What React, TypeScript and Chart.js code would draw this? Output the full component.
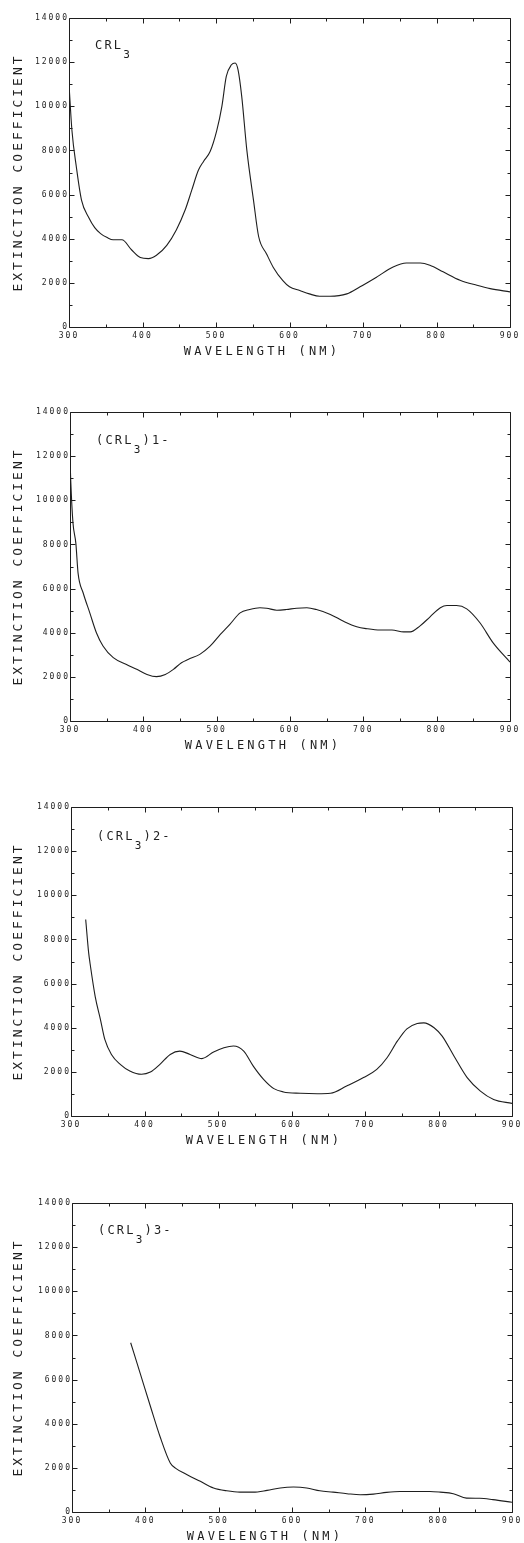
import React, { useEffect, useRef } from "react";
import { Chart, registerables } from "chart.js";

Chart.register(...registerables);

// ---------- axes ----------
const X_MIN = 300;
const X_MAX = 900;
const Y_MIN = 0;
const Y_MAX = 14000;
const xMajorTicks = [300, 400, 500, 600, 700, 800, 900];
const xMinorTicks = [350, 450, 550, 650, 750, 850];
const yMajorTicks = [0, 2000, 4000, 6000, 8000, 10000, 12000, 14000];
const yMinorTicks = [1000, 3000, 5000, 7000, 9000, 11000, 13000];

const xTitle = "WAVELENGTH (NM)";
const yTitle = "EXTINCTION COEFFICIENT";

// ---------- panel 1: CRL3 ----------
const wl1 = [300, 304, 310, 317, 327, 335, 343, 352, 360, 372, 385, 397, 408, 419, 433, 446, 458, 467, 476, 483, 492, 501, 508, 514, 521, 526, 530, 535, 542, 551, 558, 569, 578, 591, 600, 614, 627, 641, 655, 678, 696, 719, 741, 759, 778, 791, 809, 832, 855, 873, 900];
const ext1 = [11000, 8900, 7250, 5750, 4950, 4500, 4230, 4050, 3950, 3950, 3500, 3150, 3100, 3250, 3700, 4400, 5300, 6200, 7100, 7500, 7950, 8900, 10000, 11350, 11880, 11960, 11650, 10450, 8000, 5750, 4100, 3300, 2700, 2100, 1820, 1650, 1500, 1390, 1390, 1500, 1820, 2270, 2720, 2900, 2900, 2800, 2500, 2120, 1890, 1740, 1590];

// ---------- panel 2: (CRL3)1- ----------
const wl2 = [300, 301, 304, 308, 311, 318, 327, 336, 345, 359, 377, 391, 405, 418, 430, 441, 452, 461, 477, 491, 505, 518, 532, 545, 559, 568, 582, 595, 609, 623, 636, 655, 673, 691, 705, 723, 739, 755, 764, 777, 791, 805, 814, 827, 841, 859, 877, 900];
const ext2 = [11900, 10900, 9000, 8050, 6700, 5800, 4900, 4000, 3400, 2870, 2560, 2340, 2110, 2010, 2110, 2340, 2640, 2790, 3020, 3390, 3920, 4380, 4900, 5050, 5130, 5110, 5020, 5050, 5110, 5130, 5050, 4830, 4520, 4270, 4180, 4120, 4120, 4040, 4040, 4300, 4720, 5130, 5230, 5230, 5080, 4450, 3540, 2670];

// ---------- panel 3: (CRL3)2- ----------
const wl3 = [320, 324, 326, 333, 340, 346, 355, 367, 380, 396, 408, 421, 435, 448, 462, 478, 494, 508, 521, 535, 548, 562, 576, 589, 612, 635, 653, 675, 698, 716, 730, 744, 757, 771, 780, 794, 805, 821, 839, 857, 875, 900];
const ext3 = [8900, 7400, 6900, 5400, 4380, 3470, 2790, 2340, 2040, 1890, 1990, 2340, 2790, 2940, 2790, 2600, 2900, 3090, 3170, 2940, 2260, 1660, 1240, 1090, 1030, 1010, 1030, 1360, 1740, 2110, 2640, 3390, 3950, 4190, 4220, 4000, 3620, 2720, 1740, 1130, 750, 570];

// ---------- panel 4: (CRL3)3- ----------
const wl4 = [380, 393, 407, 420, 434, 441, 457, 475, 493, 511, 529, 547, 566, 584, 602, 620, 638, 656, 675, 693, 711, 729, 747, 765, 788, 802, 820, 838, 856, 874, 900];
const ext4 = [7670, 6280, 4780, 3420, 2220, 1990, 1690, 1390, 1090, 960, 900, 900, 980, 1090, 1130, 1090, 960, 900, 830, 780, 810, 890, 930, 930, 930, 900, 830, 630, 620, 560, 440];

// ---------- panel labels ----------
const labelMain = ["CRL", "(CRL", "(CRL", "(CRL"];
const labelSub = ["3", "3", "3", "3"];
const labelTail = ["", ")1-", ")2-", ")3-"];

const INK = "#1e1e1e";
const MONO = '"DejaVu Sans Mono", "Liberation Mono", monospace';
const CANVAS_W = 524;
const CANVAS_H = 358;

const framePlugin = {
  id: "frame",
  beforeDraw(chart: any) {
    (chart.ctx as any).letterSpacing = "2px";
  },
  afterDraw(chart: any, _args: any, opts: any) {
    const { ctx, chartArea: a, scales } = chart;
    const x = scales.x;
    const y = scales.y;
    ctx.save();
    (ctx as any).letterSpacing = "0px";
    ctx.strokeStyle = INK;
    ctx.lineWidth = 1;
    ctx.beginPath();
    const L = Math.round(a.left) + 0.5;
    const R = Math.round(a.right) + 0.5;
    const T = Math.round(a.top) + 0.5;
    const B = Math.round(a.bottom) + 0.5;
    ctx.moveTo(L, T);
    ctx.lineTo(R, T);
    ctx.lineTo(R, B);
    ctx.lineTo(L, B);
    ctx.closePath();
    const xt = (v: number, len: number) => {
      const px = Math.round(x.getPixelForValue(v)) + 0.5;
      ctx.moveTo(px, B);
      ctx.lineTo(px, B - len);
      ctx.moveTo(px, T);
      ctx.lineTo(px, T + len);
    };
    const yt = (v: number, len: number) => {
      const py = Math.round(y.getPixelForValue(v)) + 0.5;
      ctx.moveTo(L, py);
      ctx.lineTo(L + len, py);
      ctx.moveTo(R, py);
      ctx.lineTo(R - len, py);
    };
    xMajorTicks.forEach((v) => xt(v, 5));
    xMinorTicks.forEach((v) => xt(v, 3));
    yMajorTicks.forEach((v) => yt(v, 5));
    yMinorTicks.forEach((v) => yt(v, 3));
    ctx.stroke();

    ctx.fillStyle = INK;
    // y title
    ctx.font = `13px ${MONO}`;
    (ctx as any).letterSpacing = "3px";
    ctx.textAlign = "center";
    ctx.textBaseline = "middle";
    ctx.save();
    ctx.translate(19, (a.top + a.bottom) / 2);
    ctx.rotate(-Math.PI / 2);
    ctx.fillText(yTitle, 0, 0);
    ctx.restore();
    // x title
    ctx.font = `12px ${MONO}`;
    (ctx as any).letterSpacing = "3.2px";
    ctx.fillText(xTitle, a.left + 193, a.bottom + 24.5);

    // panel label
    ctx.textAlign = "left";
    ctx.textBaseline = "alphabetic";
    (ctx as any).letterSpacing = "2.2px";
    let px = a.left + 26;
    const base = a.top + opts.labelDy + 9;
    ctx.font = `12px ${MONO}`;
    ctx.fillText(opts.main, px, base);
    px += ctx.measureText(opts.main).width;
    ctx.font = `11px ${MONO}`;
    ctx.fillText(opts.sub, px, base + 9);
    px += ctx.measureText(opts.sub).width;
    ctx.font = `12px ${MONO}`;
    ctx.fillText(opts.tail, px, base);
    ctx.restore();
  },
};

type PanelProps = {
  wl: number[];
  ext: number[];
  idx: number;
  top: number;
  left: number;
  right: number;
  labelDy: number;
};

function Panel({ wl, ext, idx, top, left, right, labelDy }: PanelProps) {
  const ref = useRef<HTMLCanvasElement>(null);
  useEffect(() => {
    const points = wl.map((w, i) => ({ x: w, y: ext[i] }));
    const chart = new Chart(ref.current as HTMLCanvasElement, {
      type: "scatter",
      data: {
        datasets: [
          {
            data: points,
            showLine: true,
            borderColor: INK,
            borderWidth: 1.1,
            pointRadius: 0,
            pointHoverRadius: 0,
            cubicInterpolationMode: "monotone",
            fill: false,
          } as any,
        ],
      },
      options: {
        responsive: false,
        animation: false,
        events: [],
        layout: { padding: { top: 18, right: CANVAS_W - right, left: 0, bottom: 0 } },
        plugins: {
          legend: { display: false },
          tooltip: { enabled: false },
          frame: {
            main: labelMain[idx],
            sub: labelSub[idx],
            tail: labelTail[idx],
            labelDy,
          },
        } as any,
        scales: {
          x: {
            type: "linear",
            min: X_MIN,
            max: X_MAX,
            grid: { display: false, drawTicks: false },
            border: { display: false },
            afterFit: (s: any) => {
              s.height = 31;
            },
            afterBuildTicks: (s: any) => {
              s.ticks = xMajorTicks.map((v) => ({ value: v }));
            },
            ticks: {
              autoSkip: false,
              maxRotation: 0,
              padding: 4,
              color: INK,
              font: { family: MONO, size: 8 },
              callback: (v: any) => String(v),
            },
          },
          y: {
            type: "linear",
            min: Y_MIN,
            max: Y_MAX,
            grid: { display: false, drawTicks: false },
            border: { display: false },
            afterFit: (s: any) => {
              s.width = left;
            },
            afterBuildTicks: (s: any) => {
              s.ticks = yMajorTicks.map((v) => ({ value: v }));
            },
            ticks: {
              autoSkip: false,
              padding: 0,
              color: INK,
              font: { family: MONO, size: 8 },
              callback: (v: any) => String(v),
            },
          },
        },
      },
      plugins: [framePlugin as any],
    });
    return () => chart.destroy();
  }, []);
  return (
    <canvas
      ref={ref}
      width={CANVAS_W}
      height={CANVAS_H}
      style={{ position: "absolute", left: 0, top, width: CANVAS_W, height: CANVAS_H }}
    />
  );
}

export default function App() {
  return (
    <div style={{ position: "absolute", left: 0, top: 0, width: 524, height: 1543, background: "#fff" }}>
      <Panel wl={wl1} ext={ext1} idx={0} top={0} left={69} right={510} labelDy={22} />
      <Panel wl={wl2} ext={ext2} idx={1} top={394} left={70} right={510} labelDy={23} />
      <Panel wl={wl3} ext={ext3} idx={2} top={789} left={71} right={512} labelDy={24} />
      <Panel wl={wl4} ext={ext4} idx={3} top={1185} left={72} right={512} labelDy={22} />
    </div>
  );
}
